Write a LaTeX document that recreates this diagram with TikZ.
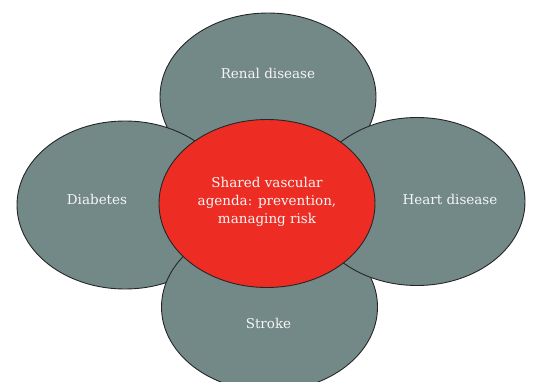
\documentclass[tikz,border=0pt]{standalone}
\usepackage{fontspec}
\setmainfont{DejaVu Serif}
\usepackage{xcolor}
\usepackage{tikz}
\usetikzlibrary{shapes.geometric}

\definecolor{petal}{RGB}{115,137,136}
\definecolor{hub}{RGB}{237,45,36}

\tikzset{
  blob/.style={ellipse, draw=black!85, line width=0.9pt, fill=petal,
    minimum width=216, minimum height=168, inner sep=0pt},
  hubblob/.style={blob, fill=hub},
  txt/.style={text=white!96!black, font=\fontsize{13.5}{18}\selectfont, align=center}
}

\begin{document}
\begin{tikzpicture}[x=1pt, y=1pt]
\useasboundingbox (0,0) rectangle (533,381);
% outer ellipses, back to front
\node[blob] (renal) at (268,284) {};
\node[blob] (diab) at (125,176) {};
\node[blob] (stroke) at (269.5,74) {};
\node[blob] (heart) at (417,179.5) {};
% centre
\node[hubblob] (vasc) at (267,177.5) {};
% labels
\node[txt] (renaltxt) at ([yshift=24]renal.center) {Renal disease};
\node[txt] (diabtxt) at ([xshift=-28,yshift=6]diab.center) {Diabetes};
\node[txt] (hearttxt) at ([xshift=33,yshift=2]heart.center) {Heart disease};
\node[txt] (stroketxt) at ([xshift=-1,yshift=-16]stroke.center) {Stroke};
\node[txt] (vasctxt) at ([yshift=2]vasc.center) {Shared vascular\\agenda: prevention,\\managing risk};
\end{tikzpicture}
\end{document}
